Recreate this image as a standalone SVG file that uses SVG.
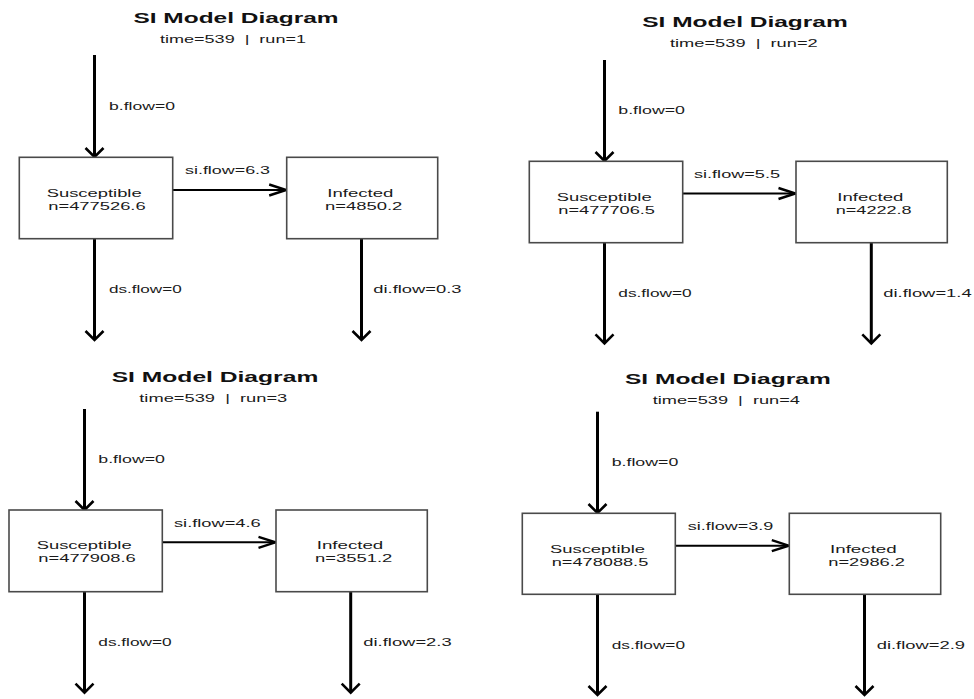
<svg xmlns="http://www.w3.org/2000/svg" width="974" height="699" viewBox="0 0 974 699">
  <style>
    text { font-family: "Liberation Sans", Arial, sans-serif; fill: #1a1a1a; }
    .title { font-size: 14px; font-weight: bold; fill: #111; }
    .sub { font-size: 11px; }
    .lbl { font-size: 11px; }
    .box-txt { font-size: 11px; }
    .box { fill: #fff; stroke: #4a4a4a; stroke-width: 1.6; }
    .vflow { stroke: #000; stroke-width: 3; fill: none; marker-end: url(#head-v); }
    .hflow { stroke: #000; stroke-width: 2; fill: none; marker-end: url(#head-h); }
  </style>
  <defs>
    <!-- open V heads; the vertical and horizontal ones differ because the plot is wider than tall -->
    <marker id="head-v" markerUnits="userSpaceOnUse" viewBox="-12 -12 14 24" markerWidth="14" markerHeight="24" refX="0" refY="0" orient="auto" overflow="visible">
      <path d="M-9,-9 L0,0 L-9,9" fill="none" stroke="#000" stroke-width="2.6"/>
    </marker>
    <marker id="head-h" markerUnits="userSpaceOnUse" viewBox="-20 -8 22 16" markerWidth="22" markerHeight="16" refX="0" refY="0" orient="auto" overflow="visible">
      <path d="M-17,-5.5 L0,0 L-17,5.5" fill="none" stroke="#000" stroke-width="2.4"/>
    </marker>
  </defs>
  <rect width="974" height="699" fill="#fff"/>

  <!-- ===== run 1 ===== -->
  <g id="run1-header">
    <text class="title" x="133.5" y="22.7" textLength="205" lengthAdjust="spacingAndGlyphs">SI Model Diagram</text>
    <text class="sub" x="160" y="43.3" textLength="146" lengthAdjust="spacingAndGlyphs">time=539&#160;&#160;|&#160;&#160;run=1</text>
  </g>
  <g id="run1-connectors">
    <line class="vflow" x1="94.5" y1="55" x2="94.5" y2="157"/>
    <line class="hflow" x1="172.7" y1="190" x2="286.2" y2="190"/>
    <line class="vflow" x1="94.5" y1="238.7" x2="94.5" y2="340"/>
    <line class="vflow" x1="361.5" y1="238.7" x2="361.5" y2="340"/>
    <text class="lbl" x="109" y="110" textLength="66" lengthAdjust="spacingAndGlyphs">b.flow=0</text>
    <text class="lbl" x="185" y="174" textLength="85" lengthAdjust="spacingAndGlyphs">si.flow=6.3</text>
    <text class="lbl" x="109" y="293.3" textLength="72.7" lengthAdjust="spacingAndGlyphs">ds.flow=0</text>
    <text class="lbl" x="373.3" y="293.3" textLength="88.3" lengthAdjust="spacingAndGlyphs">di.flow=0.3</text>
  </g>
  <g id="run1-susceptible">
    <rect class="box" x="19.3" y="157.3" width="153.4" height="81.4"/>
    <text class="box-txt" x="46.7" y="196.6" textLength="95" lengthAdjust="spacingAndGlyphs">Susceptible</text>
    <text class="box-txt" x="48.3" y="209.5" textLength="97.3" lengthAdjust="spacingAndGlyphs">n=477526.6</text>
  </g>
  <g id="run1-infected">
    <rect class="box" x="286.7" y="157.3" width="151" height="81.4"/>
    <text class="box-txt" x="327.3" y="196.6" textLength="66" lengthAdjust="spacingAndGlyphs">Infected</text>
    <text class="box-txt" x="325" y="209.5" textLength="77.3" lengthAdjust="spacingAndGlyphs">n=4850.2</text>
  </g>

  <!-- ===== run 2 ===== -->
  <g id="run2-header">
    <text class="title" x="642.3" y="26.7" textLength="205.4" lengthAdjust="spacingAndGlyphs">SI Model Diagram</text>
    <text class="sub" x="670" y="47.3" textLength="147.7" lengthAdjust="spacingAndGlyphs">time=539&#160;&#160;|&#160;&#160;run=2</text>
  </g>
  <g id="run2-connectors">
    <line class="vflow" x1="604.5" y1="60" x2="604.5" y2="161"/>
    <line class="hflow" x1="682.7" y1="193.5" x2="795.5" y2="193.5"/>
    <line class="vflow" x1="604.5" y1="242.7" x2="604.5" y2="343.3"/>
    <line class="vflow" x1="871.3" y1="242.7" x2="871.3" y2="343.3"/>
    <text class="lbl" x="618.3" y="114" textLength="66.7" lengthAdjust="spacingAndGlyphs">b.flow=0</text>
    <text class="lbl" x="694" y="178.3" textLength="86" lengthAdjust="spacingAndGlyphs">si.flow=5.5</text>
    <text class="lbl" x="618.3" y="297.3" textLength="73.4" lengthAdjust="spacingAndGlyphs">ds.flow=0</text>
    <text class="lbl" x="883.3" y="297.3" textLength="88.4" lengthAdjust="spacingAndGlyphs">di.flow=1.4</text>
  </g>
  <g id="run2-susceptible">
    <rect class="box" x="529.3" y="161.3" width="153.4" height="81.4"/>
    <text class="box-txt" x="556.7" y="200.6" textLength="95" lengthAdjust="spacingAndGlyphs">Susceptible</text>
    <text class="box-txt" x="558.3" y="213.5" textLength="96.7" lengthAdjust="spacingAndGlyphs">n=477706.5</text>
  </g>
  <g id="run2-infected">
    <rect class="box" x="796" y="161.3" width="151.3" height="81.4"/>
    <text class="box-txt" x="837.3" y="200.6" textLength="66" lengthAdjust="spacingAndGlyphs">Infected</text>
    <text class="box-txt" x="835.7" y="213.5" textLength="76" lengthAdjust="spacingAndGlyphs">n=4222.8</text>
  </g>

  <!-- ===== run 3 ===== -->
  <g id="run3-header">
    <text class="title" x="111.7" y="381.7" textLength="206.6" lengthAdjust="spacingAndGlyphs">SI Model Diagram</text>
    <text class="sub" x="139.3" y="402.3" textLength="148" lengthAdjust="spacingAndGlyphs">time=539&#160;&#160;|&#160;&#160;run=3</text>
  </g>
  <g id="run3-connectors">
    <line class="vflow" x1="84.5" y1="409" x2="84.5" y2="510"/>
    <line class="hflow" x1="162.3" y1="542.3" x2="275.5" y2="542.3"/>
    <line class="vflow" x1="84.5" y1="591.7" x2="84.5" y2="692.7"/>
    <line class="vflow" x1="350.7" y1="591.7" x2="350.7" y2="692.7"/>
    <text class="lbl" x="98.3" y="462.7" textLength="66.7" lengthAdjust="spacingAndGlyphs">b.flow=0</text>
    <text class="lbl" x="174" y="526.7" textLength="86.7" lengthAdjust="spacingAndGlyphs">si.flow=4.6</text>
    <text class="lbl" x="98.3" y="645.7" textLength="73.4" lengthAdjust="spacingAndGlyphs">ds.flow=0</text>
    <text class="lbl" x="363.3" y="645.7" textLength="88.4" lengthAdjust="spacingAndGlyphs">di.flow=2.3</text>
  </g>
  <g id="run3-susceptible">
    <rect class="box" x="9" y="510" width="153.3" height="81.7"/>
    <text class="box-txt" x="36.7" y="549.3" textLength="95" lengthAdjust="spacingAndGlyphs">Susceptible</text>
    <text class="box-txt" x="38.3" y="562.2" textLength="97.4" lengthAdjust="spacingAndGlyphs">n=477908.6</text>
  </g>
  <g id="run3-infected">
    <rect class="box" x="276" y="510" width="151.3" height="81.7"/>
    <text class="box-txt" x="316.7" y="549.3" textLength="66.6" lengthAdjust="spacingAndGlyphs">Infected</text>
    <text class="box-txt" x="315" y="562.2" textLength="77.3" lengthAdjust="spacingAndGlyphs">n=3551.2</text>
  </g>

  <!-- ===== run 4 ===== -->
  <g id="run4-header">
    <text class="title" x="625" y="384" textLength="205.7" lengthAdjust="spacingAndGlyphs">SI Model Diagram</text>
    <text class="sub" x="652.7" y="404.3" textLength="147.3" lengthAdjust="spacingAndGlyphs">time=539&#160;&#160;|&#160;&#160;run=4</text>
  </g>
  <g id="run4-connectors">
    <line class="vflow" x1="597.5" y1="411.7" x2="597.5" y2="513"/>
    <line class="hflow" x1="675.3" y1="545.7" x2="788.8" y2="545.7"/>
    <line class="vflow" x1="597.5" y1="594.3" x2="597.5" y2="695"/>
    <line class="vflow" x1="864.5" y1="594.3" x2="864.5" y2="695"/>
    <text class="lbl" x="611.7" y="466" textLength="66.6" lengthAdjust="spacingAndGlyphs">b.flow=0</text>
    <text class="lbl" x="687.7" y="530" textLength="85.6" lengthAdjust="spacingAndGlyphs">si.flow=3.9</text>
    <text class="lbl" x="611.7" y="648.7" textLength="73.3" lengthAdjust="spacingAndGlyphs">ds.flow=0</text>
    <text class="lbl" x="876.7" y="648.7" textLength="88.3" lengthAdjust="spacingAndGlyphs">di.flow=2.9</text>
  </g>
  <g id="run4-susceptible">
    <rect class="box" x="522.3" y="513.3" width="153" height="81"/>
    <text class="box-txt" x="550" y="552.6" textLength="95" lengthAdjust="spacingAndGlyphs">Susceptible</text>
    <text class="box-txt" x="551.7" y="565.5" textLength="96.6" lengthAdjust="spacingAndGlyphs">n=478088.5</text>
  </g>
  <g id="run4-infected">
    <rect class="box" x="789.3" y="513.3" width="151.4" height="81"/>
    <text class="box-txt" x="830" y="552.6" textLength="66.7" lengthAdjust="spacingAndGlyphs">Infected</text>
    <text class="box-txt" x="828.3" y="565.5" textLength="76.7" lengthAdjust="spacingAndGlyphs">n=2986.2</text>
  </g>
</svg>
